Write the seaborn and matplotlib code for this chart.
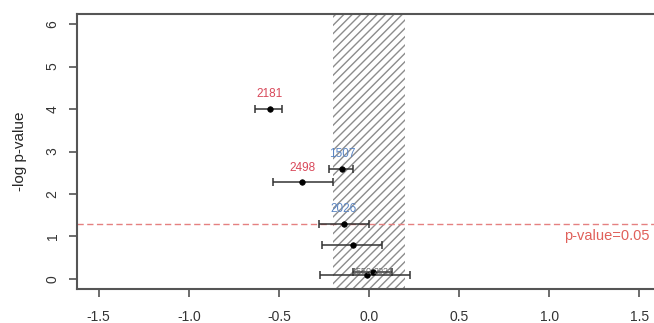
import matplotlib
matplotlib.use("Agg")
import matplotlib.pyplot as plt
import matplotlib.patches as mpatches
import numpy as np
import pandas as pd
import seaborn as sns

# effect estimates with confidence limits and -log10 p-values
ids = ["2181", "1507", "2498", "2026", "", "", ""]
effect = [-0.55, -0.15, -0.37, -0.14, -0.09, 0.02, -0.01]
neglogp = [4.00, 2.58, 2.27, 1.30, 0.80, 0.17, 0.10]
lower = [-0.63, -0.22, -0.53, -0.28, -0.26, -0.09, -0.27]
upper = [-0.48, -0.09, -0.20, 0.00, 0.07, 0.13, 0.23]
label_colors = ["#d9485a", "#5b86c4", "#d9485a", "#5b86c4", None, None, None]

# overlapping labels of the two points near zero
faint_labels = ["1550", "2021"]
faint_x = [-0.04, 0.08]
faint_y = [0.17, 0.17]

region = (-0.2, 0.2)
p_cut = 0.05
x_ticks = [-1.5, -1.0, -0.5, 0.0, 0.5, 1.0, 1.5]
y_ticks = [0, 1, 2, 3, 4, 5, 6]

df = pd.DataFrame({"id": ids, "effect": effect, "neglogp": neglogp,
                   "lower": lower, "upper": upper})

sns.set_style("white")
plt.rcParams["font.family"] = ["Liberation Sans", "DejaVu Sans"]
plt.rcParams["hatch.linewidth"] = 1.0
plt.rcParams["hatch.color"] = "#8c8c8c"

fig = plt.figure(figsize=(6.54, 3.23), dpi=100)
ax = fig.add_axes([77 / 654, 1 - 289 / 323, (661 - 77) / 654, (289 - 14) / 323])

# equivalence region (hatched, no outline)
rect = mpatches.Rectangle((region[0], -1), region[1] - region[0], 10,
                          facecolor="white", edgecolor="#8c8c8c",
                          hatch="////", linewidth=0, zorder=1)
ax.add_patch(rect)

# significance threshold
thr = -np.log10(p_cut)
ax.axhline(thr, color="#e58080", linestyle=(0, (4.5, 2.5)), linewidth=1.0, zorder=2)
ax.text(1.08, 1.0, "p-value=0.05", color="#e0605a", fontsize=10.5,
        ha="left", va="center", clip_on=False)

# confidence intervals
ax.errorbar(df["effect"], df["neglogp"],
            xerr=[df["effect"] - df["lower"], df["upper"] - df["effect"]],
            fmt="none", ecolor="#333333", elinewidth=1.1, capsize=3,
            capthick=1.1, zorder=3)
sns.scatterplot(data=df, x="effect", y="neglogp", ax=ax, color="black",
                s=16, edgecolor="black", linewidth=0.5, zorder=4, legend=False)

for i, c, x, y in zip(ids, label_colors, effect, neglogp):
    if i:
        ax.text(x, y + 0.35, i, color=c, fontsize=8.5, ha="center", va="center", zorder=5)
for t, x, y in zip(faint_labels, faint_x, faint_y):
    ax.text(x, y, t, color="#666666", fontsize=6.5, ha="center", va="center", zorder=5)

ax.set_xlim(-1.62, 1.62)
ax.set_ylim(-0.24, 6.24)
ax.set_xticks(x_ticks)
ax.set_xticklabels([f"{v:.1f}" for v in x_ticks])
ax.set_yticks(y_ticks)
ax.set_yticklabels([str(v) for v in y_ticks], rotation=90, va="center")
ax.set_xlabel("")
ax.set_ylabel("-log p-value", fontsize=11)
ax.yaxis.set_label_coords(-0.085, 0.5)
ax.tick_params(axis="both", direction="out", length=5.5, width=1.1,
               color="#444444", labelsize=10, labelcolor="#333333", pad=7,
               left=True, bottom=True)
ax.tick_params(axis="x", pad=9.5)
for s in ax.spines.values():
    s.set_color("#555555")
    s.set_linewidth(1.5)
    s.set_visible(True)

fig.savefig("out.png", dpi=100)
